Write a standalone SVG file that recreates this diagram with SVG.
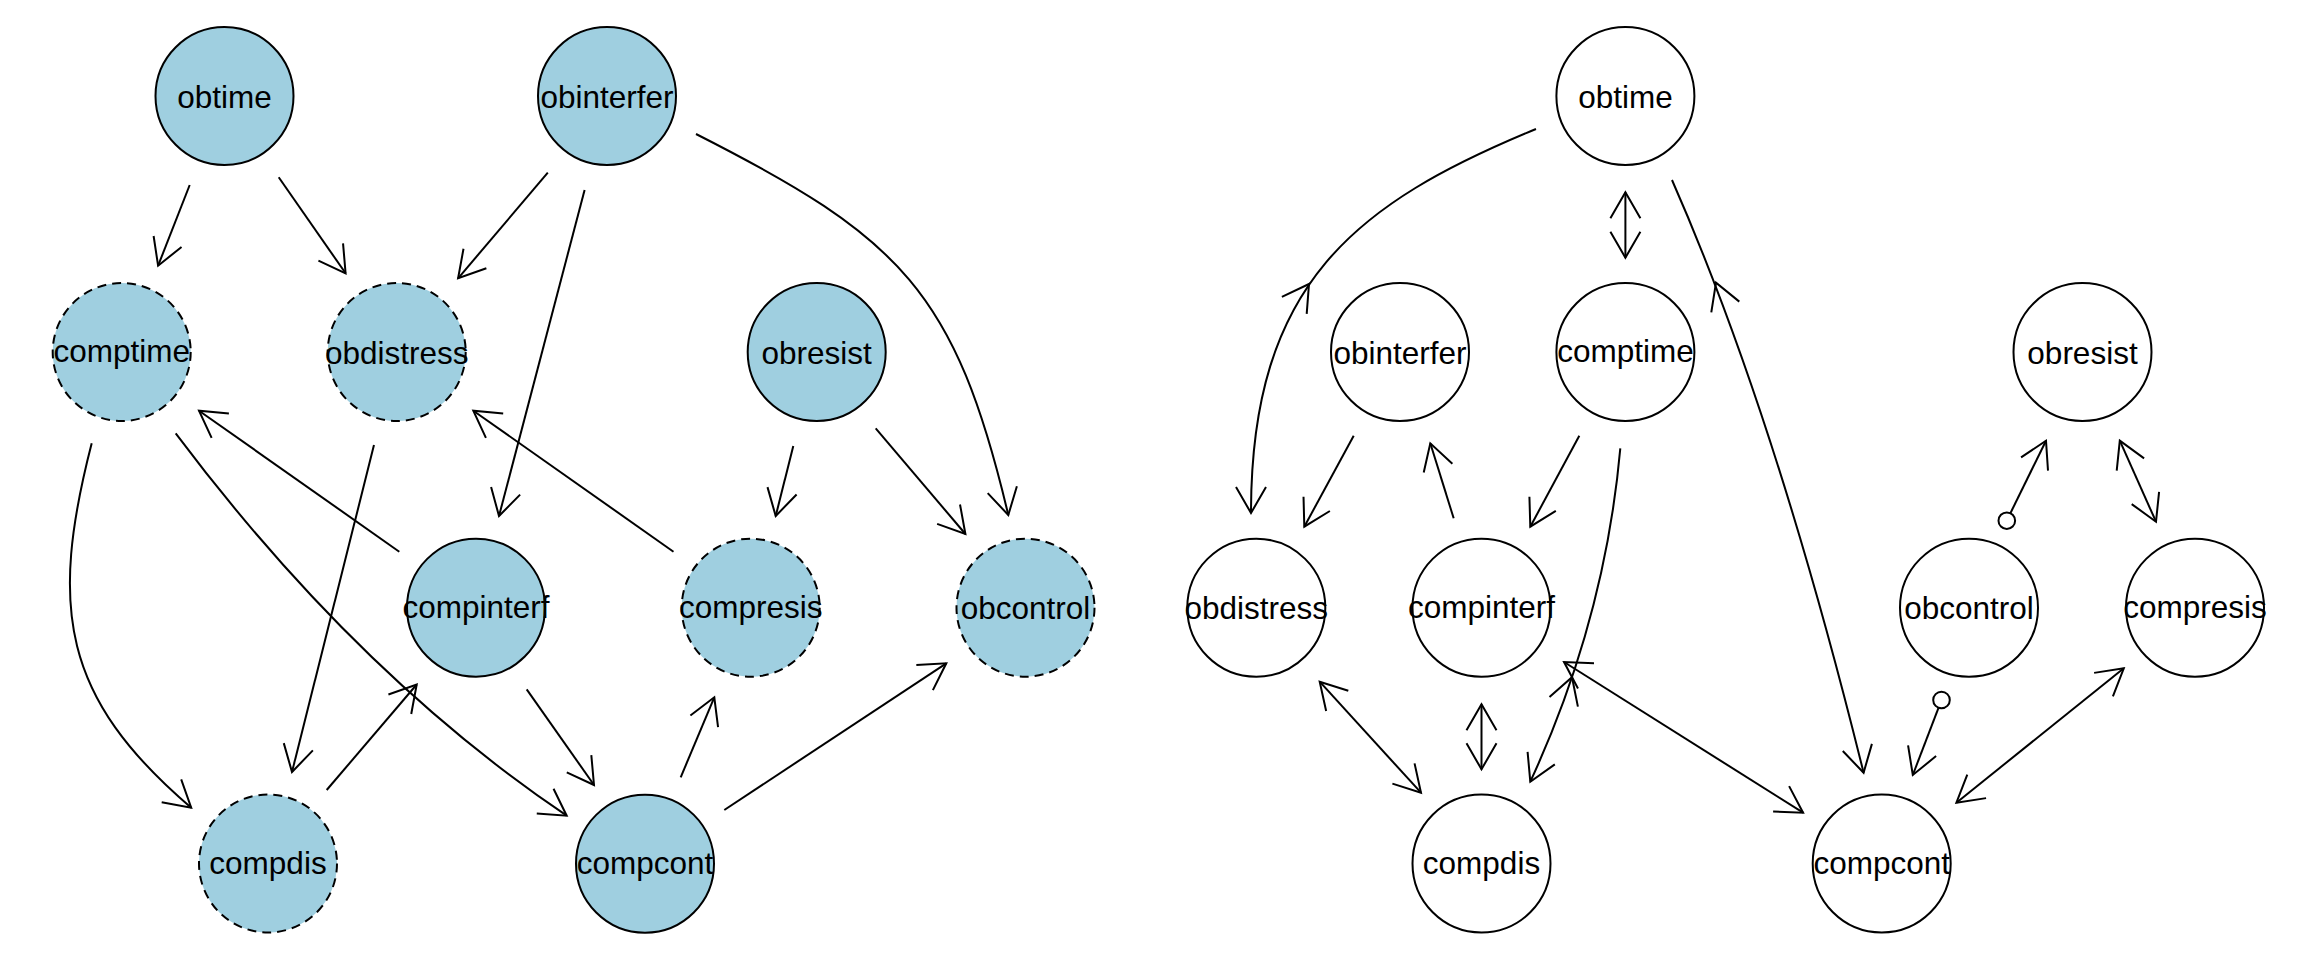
<svg xmlns="http://www.w3.org/2000/svg" width="2304" height="960" viewBox="0 0 2304 960">
<style>
.n circle{fill:#9fcfe0;stroke:#000;stroke-width:2}
.n.w circle{fill:#fff}
.n.d circle{stroke-dasharray:9 6}
.n text{font-family:"Liberation Sans",Arial,sans-serif;font-size:31.5px;text-anchor:middle;fill:#000}
#edges path{fill:none;stroke:#000;stroke-width:2;stroke-linejoin:miter}
#edges .s{marker-start:url(#arr)}
#edges .e{marker-end:url(#arr)}
#edges circle{fill:#fff;stroke:#000;stroke-width:2}
</style>
<defs>
<marker id="arr" viewBox="-34 -20 40 40" refX="0" refY="0" markerWidth="40" markerHeight="40" markerUnits="userSpaceOnUse" orient="auto-start-reverse" overflow="visible">
<path d="M-26,-15 L0,0 L-26,15" fill="none" stroke="#000" stroke-width="2" stroke-linejoin="miter"/>
</marker>
</defs>
<rect width="2304" height="960" fill="#fff"/>
<g id="edges">
<path class="e" d="M189.7,185 L158.1,265.7"/>
<path class="e" d="M278.7,177.3 L345.6,273.3"/>
<path class="e" d="M547.8,172.7 L458.1,278.3"/>
<path class="e" d="M584.6,190 L499,516"/>
<path class="e" d="M696,134 C901.2,238 955.2,291.2 1008.3,515"/>
<path class="e" d="M793.3,446 L775.7,516"/>
<path class="e" d="M875.7,428.3 L965.4,534"/>
<path class="e" d="M91.7,443.3 C49.2,608.2 62,697.2 191.2,807.7"/>
<path class="e" d="M175.7,433.3 Q355.7,673.3 566.7,815.7"/>
<path class="e" d="M374,445 L292,772"/>
<path class="e" d="M399.3,551.7 L199,410.7"/>
<path class="e" d="M673.5,551.7 L473.3,410.7"/>
<path class="e" d="M326.7,790 L416.7,684.5"/>
<path class="e" d="M526.7,689.3 L594,785"/>
<path class="e" d="M680.7,777.3 L714.3,697.3"/>
<path class="e" d="M724.3,810 L946.3,663.3"/>
<path class="s e" d="M1625.4,192.3 L1625.4,257.7"/>
<path class="e" d="M1536,129 C1355.6,203.3 1251,283 1251,513"/>
<path d="M1281.9,296.9 L1309,284 L1306.7,313.9"/>
<path class="e" d="M1672,180 Q1774.6,413 1863.6,772.7"/>
<path d="M1711.3,312.4 L1716,282.7 L1739.3,301.6"/>
<path class="e" d="M1353.7,435.7 L1304.3,526.7"/>
<path class="e" d="M1453.7,518.3 L1430.3,443.3"/>
<path class="e" d="M1579.3,435.7 L1530.3,526.7"/>
<path class="e" d="M1620.3,448.3 Q1605,620 1530.3,781.7"/>
<path d="M1549.5,697 L1572,677.2 L1577.9,706.6"/>
<path class="s e" d="M1481.5,704.3 L1481.5,769.3"/>
<path class="s e" d="M1319.7,681.7 L1421,792.7"/>
<path class="s e" d="M1564,662 L1803.1,812.7"/>
<circle cx="1941.5" cy="700" r="8.3"/>
<path class="e" d="M1938.5,707.8 L1912.8,775"/>
<circle cx="2006.8" cy="520.7" r="8.3"/>
<path class="e" d="M2010.4,513.2 L2046,440.7"/>
<path class="s e" d="M2119.8,440.7 L2156,521.7"/>
<path class="s e" d="M1956.4,802.7 L2123.8,668.3"/>
</g>
<g id="L_obtime" class="n"><circle cx="224.5" cy="96" r="69"/><text x="224.5" y="107.5">obtime</text></g>
<g id="L_obinterfer" class="n"><circle cx="607" cy="96" r="69"/><text x="607" y="107.5">obinterfer</text></g>
<g id="L_comptime" class="n d"><circle cx="121.7" cy="352" r="69"/><text x="121.7" y="362">comptime</text></g>
<g id="L_obdistress" class="n d"><circle cx="396.7" cy="352" r="69"/><text x="396.7" y="363.5">obdistress</text></g>
<g id="L_obresist" class="n"><circle cx="816.7" cy="352" r="69"/><text x="816.7" y="363.5">obresist</text></g>
<g id="L_compinterf" class="n"><circle cx="476" cy="607.7" r="69"/><text x="476" y="617.7">compinterf</text></g>
<g id="L_compresis" class="n d"><circle cx="750.7" cy="607.7" r="69"/><text x="750.7" y="617.7">compresis</text></g>
<g id="L_obcontrol" class="n d"><circle cx="1025.5" cy="607.7" r="69"/><text x="1025.5" y="619.2">obcontrol</text></g>
<g id="L_compdis" class="n d"><circle cx="268" cy="863.5" r="69"/><text x="268" y="873.5">compdis</text></g>
<g id="L_compcont" class="n"><circle cx="645" cy="863.7" r="69"/><text x="645" y="873.7">compcont</text></g>
<g id="R_obtime" class="n w"><circle cx="1625.4" cy="96" r="69"/><text x="1625.4" y="107.5">obtime</text></g>
<g id="R_obinterfer" class="n w"><circle cx="1400" cy="352" r="69"/><text x="1400" y="363.5">obinterfer</text></g>
<g id="R_comptime" class="n w"><circle cx="1625.4" cy="352" r="69"/><text x="1625.4" y="362">comptime</text></g>
<g id="R_obresist" class="n w"><circle cx="2082.5" cy="352" r="69"/><text x="2082.5" y="363.5">obresist</text></g>
<g id="R_obdistress" class="n w"><circle cx="1256.3" cy="607.7" r="69"/><text x="1256.3" y="619.2">obdistress</text></g>
<g id="R_compinterf" class="n w"><circle cx="1481.5" cy="607.7" r="69"/><text x="1481.5" y="617.7">compinterf</text></g>
<g id="R_obcontrol" class="n w"><circle cx="1969" cy="607.7" r="69"/><text x="1969" y="619.2">obcontrol</text></g>
<g id="R_compresis" class="n w"><circle cx="2195" cy="607.7" r="69"/><text x="2195" y="617.7">compresis</text></g>
<g id="R_compdis" class="n w"><circle cx="1481.5" cy="863.5" r="69"/><text x="1481.5" y="873.5">compdis</text></g>
<g id="R_compcont" class="n w"><circle cx="1881.7" cy="863.5" r="69"/><text x="1881.7" y="873.5">compcont</text></g>
</svg>
